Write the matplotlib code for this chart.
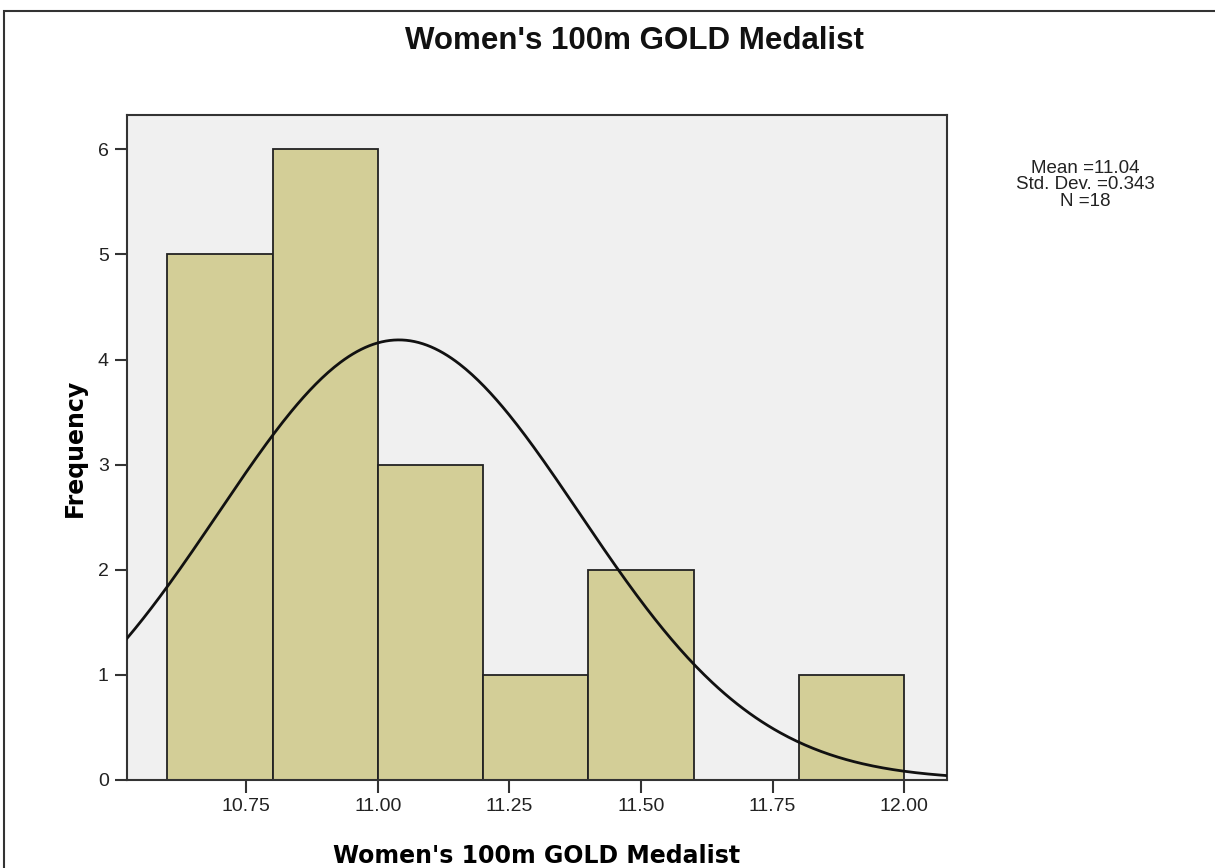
import numpy as np
import matplotlib
matplotlib.use("Agg")
import matplotlib.pyplot as plt
from matplotlib.patches import Rectangle

bin_edges = [10.6, 10.8, 11.0, 11.2, 11.4, 11.6, 11.8, 12.0]
counts = [5, 6, 3, 1, 2, 0, 1]
mean = 11.04
std = 0.343
n = 18
xticks = [10.75, 11.00, 11.25, 11.50, 11.75, 12.00]
yticks = [0, 1, 2, 3, 4, 5, 6]

plt.rcParams['font.family'] = ['Liberation Sans', 'DejaVu Sans']

fig = plt.figure(figsize=(12.15, 8.68), dpi=100)
ax = fig.add_axes([0.1043, 0.1014, 0.7792 - 0.1043, 0.8675 - 0.1014])
ax.set_facecolor('#F0F0F0')

widths = np.diff(bin_edges)
ax.bar(bin_edges[:-1], counts, width=widths, align='edge', color='#D3CE97',
       edgecolor='#222222', linewidth=1.3, zorder=2)

xlim = (10.523, 12.081)
xs = np.linspace(xlim[0], xlim[1], 400)
bw = 0.2
ys = n * bw * np.exp(-0.5 * ((xs - mean) / std) ** 2) / (std * np.sqrt(2 * np.pi))
ax.plot(xs, ys, color='#111111', linewidth=2, zorder=3)

ax.set_xlim(*xlim)
ax.set_ylim(0, 6.327)
ax.set_xticks(xticks)
ax.set_xticklabels([f"{t:.2f}" for t in xticks])
ax.set_yticks(yticks)
ax.tick_params(axis='both', direction='out', length=9, width=1.5, color='#333333',
               labelsize=14, labelcolor='#222222', pad=4)
for s in ax.spines.values():
    s.set_linewidth(1.5)
    s.set_color('#333333')

ax.set_xlabel("Women's 100m GOLD Medalist", fontsize=17, fontweight='bold',
              family='DejaVu Sans', labelpad=21)
ax.set_ylabel("Frequency", fontsize=17, fontweight='bold', family='DejaVu Sans', labelpad=8)

fig.text(0.522, 0.953, "Women's 100m GOLD Medalist", ha='center', va='center',
         fontsize=22.5, fontweight='bold', color='#111111')
fig.text(0.893, 0.787, f"Mean ={mean}\nStd. Dev. ={std}\nN ={n}", ha='center', va='center',
         fontsize=13.5, color='#222222', linespacing=0.95)

fig.patches.append(Rectangle((4 / 1215, -0.1), 1.2, (868 - 11) / 868 + 0.1, transform=fig.transFigure,
                             fill=False, edgecolor='#333333', linewidth=1.5))

fig.savefig("out.png", dpi=100)
